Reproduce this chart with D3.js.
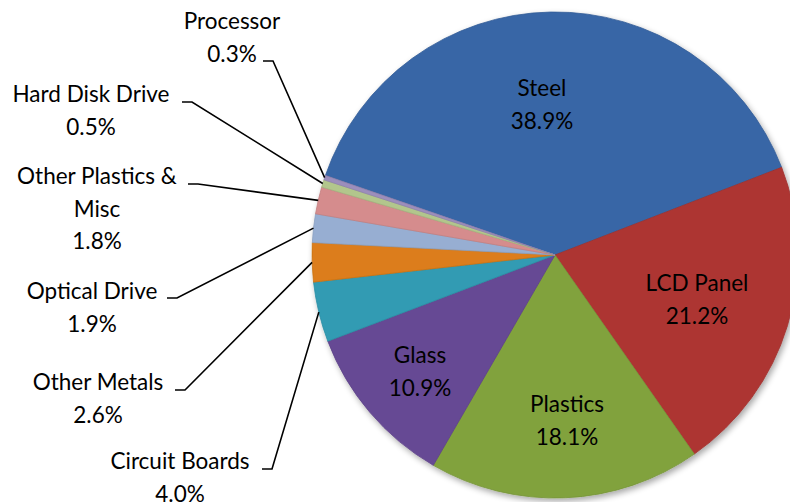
<!DOCTYPE html>
<html><head><meta charset="utf-8">
<script src="https://cdn.jsdelivr.net/npm/d3@7"></script>
<style>body{margin:0;background:#fff;}svg{display:block;}</style>
</head><body>
<svg id="c" width="790" height="502"></svg>
<script>
const categories = ["Steel","LCD Panel","Plastics","Glass","Circuit Boards","Other Metals","Optical Drive","Other Plastics & Misc","Hard Disk Drive","Processor"];
const values = [38.9,21.2,18.1,10.9,4.0,2.6,1.9,1.8,0.5,0.3];
const valueLabels = ["38.9%","21.2%","18.1%","10.9%","4.0%","2.6%","1.9%","1.8%","0.5%","0.3%"];
const colors = ["#3D6FB5","#BD3B37","#8DB143","#7050A2","#35AAC4","#F0891C","#A5BEE6","#E9999A","#C3D999","#AB9BCD"];

// layout
const W=790,H=502, cx=555, cy=255, R=243;
const startDeg = -70.9;
const innerLabelPos = {0:[542,88],1:[697,283],2:[567,404],3:[420,355]};
const outerLabelPos = {
  9:{x:232,y:29,lx:263,ly:61,lines:["Processor","0.3%"]},
  8:{x:91,y:102,lx:182,ly:102,lines:["Hard Disk Drive","0.5%"]},
  7:{x:97,y:184,lx:188,ly:184,lines:["Other Plastics &","Misc","1.8%"]},
  6:{x:92,y:299,lx:167,ly:298,lines:["Optical Drive","1.9%"]},
  5:{x:98,y:390,lx:175,ly:390,lines:["Other Metals","2.6%"]},
  4:{x:180,y:469,lx:262,ly:469,lines:["Circuit Boards","4.0%"]}
};

const svg = d3.select("#c");
const defs = svg.append("defs");
const f = defs.append("filter").attr("id","sh").attr("x","-10%").attr("y","-10%").attr("width","120%").attr("height","120%");
f.append("feGaussianBlur").attr("in","SourceAlpha").attr("stdDeviation",3);
f.append("feOffset").attr("dx",2).attr("dy",3).attr("result","b");
f.append("feComponentTransfer").attr("in","b").attr("result","c")
  .append("feFuncA").attr("type","linear").attr("slope",0.35);
const m = f.append("feMerge"); m.append("feMergeNode").attr("in","c"); m.append("feMergeNode").attr("in","SourceGraphic");

colors.forEach((c,i)=>{
  const g = defs.append("radialGradient").attr("id","g"+i).attr("gradientUnits","userSpaceOnUse")
    .attr("cx",cx).attr("cy",cy).attr("r",R);
  g.append("stop").attr("offset","0%").attr("stop-color",d3.color(c).darker(0.1));
  g.append("stop").attr("offset","92%").attr("stop-color",c);
  g.append("stop").attr("offset","97%").attr("stop-color",d3.color(c).brighter(0.3));
  g.append("stop").attr("offset","100%").attr("stop-color",d3.color(c).darker(0.25));
});

const data = categories.map((c,i)=>({cat:c,value:values[i],label:valueLabels[i],i}));
const pie = d3.pie().value(d=>d.value).sort(null)
  .startAngle(startDeg*Math.PI/180).endAngle(startDeg*Math.PI/180+2*Math.PI);
const arcs = pie(data);
const arc = d3.arc().innerRadius(0).outerRadius(R);

const g = svg.append("g").attr("transform",`translate(${cx},${cy})`).attr("filter","url(#sh)");
g.selectAll("path").data(arcs).join("path")
  .attr("d",arc).attr("fill",d=>`url(#g${d.data.i})`)
  .attr("stroke",d=>d3.color(colors[d.data.i]).darker(0.5)).attr("stroke-width",0.8)
  .attr("stroke-linejoin","round");

const font = "Lato, 'Open Sans', sans-serif";
const fs = 22.5;
arcs.forEach(a=>{
  const p = innerLabelPos[a.data.i];
  if(!p) return;
  const t = svg.append("text").attr("text-anchor","middle").attr("font-family",font)
    .attr("font-size",fs).attr("fill","#000");
  t.append("tspan").attr("x",p[0]).attr("y",p[1]+8).text(a.data.cat);
  t.append("tspan").attr("x",p[0]).attr("y",p[1]+41).text(a.data.label);
});
arcs.forEach(a=>{
  const o = outerLabelPos[a.data.i];
  if(!o) return;
  const mid = (a.startAngle+a.endAngle)/2;
  const ex = cx + Math.sin(mid)*R, ey = cy - Math.cos(mid)*R;
  svg.append("path").attr("d",`M${o.lx},${o.ly}H${o.lx+10}L${ex},${ey}`)
    .attr("fill","none").attr("stroke","#000").attr("stroke-width",1.6);
  const t = svg.append("text").attr("text-anchor","middle").attr("font-family",font)
    .attr("font-size",fs).attr("fill","#000");
  o.lines.forEach((l,k)=>t.append("tspan").attr("x",o.x).attr("y",o.y+k*32.5).text(l));
});
</script>
</body></html>
